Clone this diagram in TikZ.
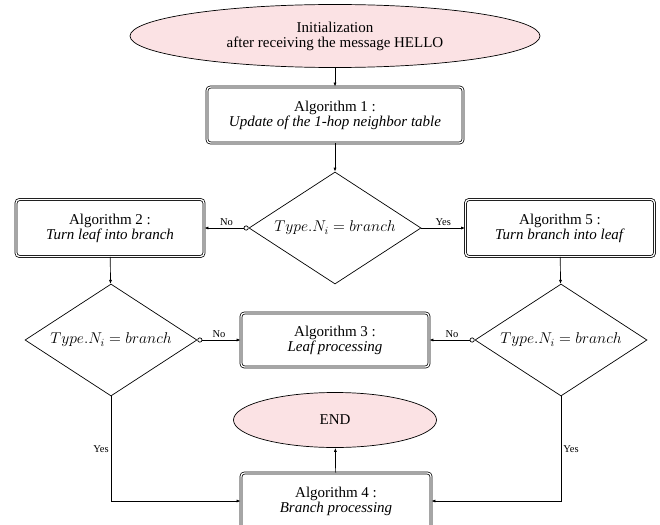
\RequirePackage{fix-cm}
\documentclass[tikz,border=0pt]{standalone}
\usepackage{fontspec}
\setmainfont{Liberation Serif}
\usetikzlibrary{shapes.geometric,arrows.meta}
\definecolor{endpink}{RGB}{251,226,228}
\tikzset{
  every picture/.style={x=1pt,y=1pt},
  term/.style={ellipse,draw,fill=endpink,line width=0.7pt,inner sep=0pt,align=center,font=\fontsize{15}{15}\selectfont},
  algbox/.style={rectangle,draw,double,double distance=1.3pt,line width=0.75pt,rounded corners=3.5pt,inner sep=0pt,align=center,font=\fontsize{15}{15}\selectfont},
  test/.style={diamond,draw,line width=0.7pt,inner sep=0pt,aspect=1.5,minimum width=172pt,minimum height=112pt,font=\fontsize{15.6}{16}\selectfont},
  flow/.style={line width=0.7pt,-{Latex[length=4pt,width=3pt]}},
  flowo/.style={line width=0.7pt,{Circle[open,length=5pt,width=5pt]}-{Latex[length=4pt,width=3pt]}},
  lab/.style={font=\fontsize{10.5}{11}\selectfont,inner sep=2pt}
}
\begin{document}
\begin{tikzpicture}
\useasboundingbox (0,0) rectangle (660,-524);
\node[term,minimum width=410pt,minimum height=63pt] (init) at (335,-36) {Initialization\\after receiving the message HELLO};
\node[algbox,minimum width=256pt,minimum height=56pt] (a1) at (335,-115) {Algorithm 1 :\\\textit{Update of the 1-hop neighbor table}};
\node[test] (d1) at (335,-228) {$Type.N_i = branch$};
\node[algbox,minimum width=188pt,minimum height=57pt] (a2) at (110,-228) {Algorithm 2 :\\\textit{Turn leaf into branch}};
\node[algbox,minimum width=189pt,minimum height=57pt] (a5) at (560,-228) {Algorithm 5 :\\\textit{Turn branch into leaf}};
\node[test] (d2) at (111,-340) {$Type.N_i = branch$};
\node[test] (d3) at (561,-340) {$Type.N_i = branch$};
\node[algbox,minimum width=188pt,minimum height=54pt] (a3) at (335,-340) {Algorithm 3 :\\\textit{Leaf processing}};
\node[term,minimum width=203pt,minimum height=55pt] (end) at (335,-420) {END};
\node[algbox,minimum width=190pt,minimum height=56pt] (a4) at (336,-501) {Algorithm 4 :\\\textit{Branch processing}};

\draw[flow] (init) -- (a1);
\draw[flow] (a1) -- (d1);
\draw[flowo] (d1.west) -- node[lab,above] {No} (a2.east);
\draw[flow] (d1.east) -- node[lab,above] {Yes} (a5.west);
\draw[flow] (a2) -- (d2);
\draw[flow] (a5) -- (d3);
\draw[flowo] (d2.east) -- node[lab,above] {No} (a3.west);
\draw[flowo] (d3.west) -- node[lab,above] {No} (a3.east);
\draw[flow] (d2.south) |- node[lab,left,pos=0.25] {Yes} (a4.west);
\draw[flow] (d3.south) |- node[lab,right,pos=0.25] {Yes} (a4.east);
\draw[flow] (a4) -- (end);
\end{tikzpicture}
\end{document}
